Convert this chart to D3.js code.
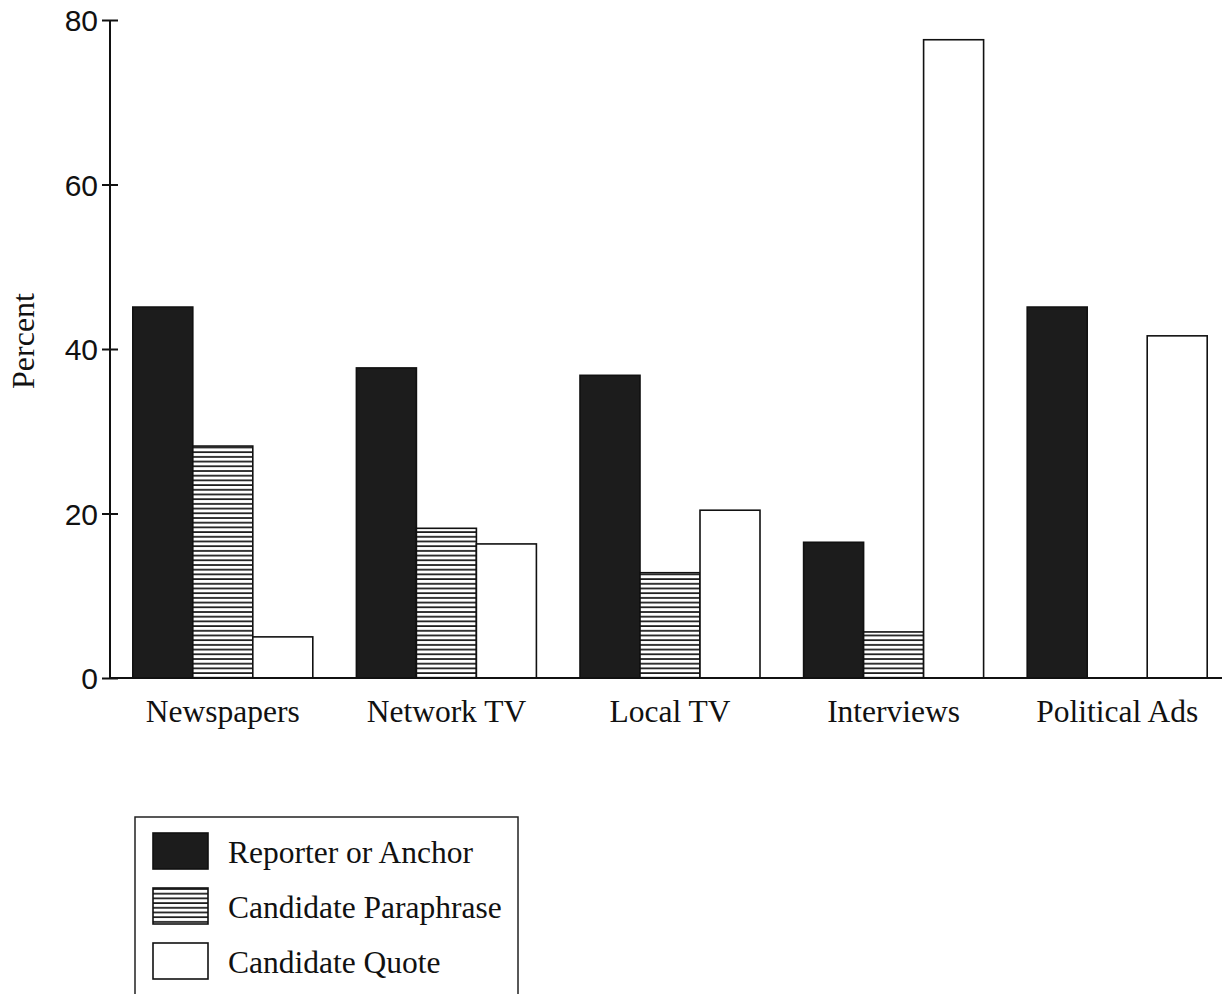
<!DOCTYPE html>
<html>
<head>
<meta charset="utf-8">
<script src="https://cdn.jsdelivr.net/npm/d3@7"></script>
<style>
  html, body { margin: 0; padding: 0; background: #fff; }
  svg { display: block; }
</style>
</head>
<body>
<svg id="chart" width="1222" height="994"></svg>
<script>
const categories = ["Newspapers", "Network TV", "Local TV", "Interviews", "Political Ads"];
const series = ["Reporter or Anchor", "Candidate Paraphrase", "Candidate Quote"];
const reporterValues   = [45.1, 37.7, 36.8, 16.5, 45.1];
const paraphraseValues = [28.2, 18.2, 12.8, 5.6, 0];
const quoteValues      = [5.0, 16.3, 20.4, 77.6, 41.6];
const yTicks = [0, 20, 40, 60, 80];
const yLabel = "Percent";

const valuesBySeries = [reporterValues, paraphraseValues, quoteValues];

const svg = d3.select("#chart");
const defs = svg.append("defs");
const pat = defs.append("pattern")
  .attr("id", "hatch")
  .attr("patternUnits", "userSpaceOnUse")
  .attr("width", 10).attr("height", 4.7);
pat.append("rect").attr("width", 10).attr("height", 4.7).attr("fill", "#fff");
pat.append("line").attr("x1", 0).attr("x2", 10).attr("y1", 1).attr("y2", 1)
  .attr("stroke", "#151515").attr("stroke-width", 1.7);

const fills = ["#1c1c1c", "url(#hatch)", "#ffffff"];
const serif = "'Liberation Serif', 'Times New Roman', serif";

const axisX = 110;
const y = d3.scaleLinear().domain([0, 80]).range([678, 20]);
const x0 = d3.scaleBand().domain(categories).range([111, 1229])
  .paddingInner(0.195).paddingOuter(0.0975);
const x1 = d3.scaleBand().domain(series).range([0, x0.bandwidth()]).padding(0);

// Bars
const groups = svg.append("g").selectAll("g")
  .data(categories).join("g")
  .attr("transform", d => `translate(${x0(d)},0)`);

groups.selectAll("rect")
  .data((c, i) => series.map((s, j) => ({ s, j, v: valuesBySeries[j][i] })).filter(d => d.v > 0))
  .join("rect")
  .attr("x", d => x1(d.s))
  .attr("width", x1.bandwidth())
  .attr("y", d => y(d.v))
  .attr("height", d => y(0) - y(d.v))
  .attr("fill", d => fills[d.j])
  .attr("stroke", "#111")
  .attr("stroke-width", 1.6);

// Y axis
const yAxis = d3.axisLeft(y).tickValues(yTicks).tickSize(0).tickPadding(0);
const yg = svg.append("g").attr("transform", `translate(${axisX},0)`).call(yAxis);
yg.select(".domain").remove();
yg.selectAll(".tick text")
  .attr("x", -12)
  .attr("dy", "0.35em")
  .attr("font-family", "'Liberation Sans', Arial, sans-serif")
  .attr("font-size", 30)
  .attr("fill", "#111");
yg.selectAll(".tick").append("line")
  .attr("x1", -8).attr("x2", 8)
  .attr("stroke", "#111").attr("stroke-width", 2);
svg.append("line")
  .attr("x1", axisX).attr("x2", axisX)
  .attr("y1", y(80)).attr("y2", y(0))
  .attr("stroke", "#111").attr("stroke-width", 2);

// X baseline
svg.append("line")
  .attr("x1", axisX).attr("x2", 1222)
  .attr("y1", y(0)).attr("y2", y(0))
  .attr("stroke", "#111").attr("stroke-width", 2);

// X labels
const xAxis = d3.axisBottom(x0).tickSize(0).tickPadding(0);
const xg = svg.append("g").attr("transform", `translate(0,${y(0)})`).call(xAxis);
xg.select(".domain").remove();
xg.selectAll(".tick text")
  .attr("y", 44)
  .attr("dy", 0)
  .attr("font-family", serif)
  .attr("font-size", 31.5)
  .attr("fill", "#111");

// Y title
svg.append("text")
  .attr("transform", "translate(34,341) rotate(-90)")
  .attr("text-anchor", "middle")
  .attr("font-family", serif)
  .attr("font-size", 32)
  .attr("fill", "#111")
  .text(yLabel);

// Legend
const legend = svg.append("g");
legend.append("rect")
  .attr("x", 135).attr("y", 817)
  .attr("width", 383).attr("height", 200)
  .attr("fill", "none").attr("stroke", "#222").attr("stroke-width", 1.5);
const rowY = d3.scalePoint().domain(series).range([833, 943]);
const rows = legend.selectAll("g.row").data(series).join("g")
  .attr("class", "row")
  .attr("transform", d => `translate(0,${rowY(d)})`);
rows.append("rect")
  .attr("x", 153).attr("y", 0)
  .attr("width", 55).attr("height", 36)
  .attr("fill", (d, i) => fills[i])
  .attr("stroke", "#111").attr("stroke-width", 1.6);
rows.append("text")
  .attr("x", 228).attr("y", 30)
  .attr("font-family", serif)
  .attr("font-size", 31.5)
  .attr("fill", "#111")
  .text(d => d);
</script>
</body>
</html>
